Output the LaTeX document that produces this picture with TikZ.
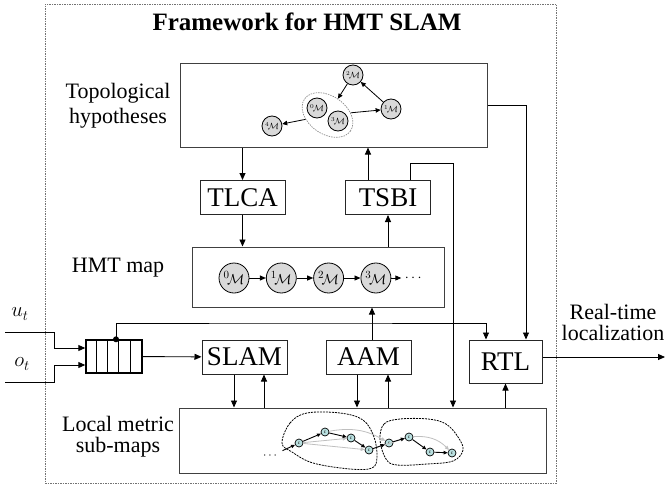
\documentclass[tikz,border=0pt]{standalone}
\usepackage{fontspec}
\setmainfont{Liberation Serif}
\usepackage{amsmath}
\usetikzlibrary{arrows.meta, positioning, calc, shapes.geometric}
\definecolor{mapgray}{HTML}{D9D9D9}
\definecolor{subcyan}{HTML}{B9E0E0}

\begin{document}
\begin{tikzpicture}[
    x=1pt, y=-1pt,
    fwbox/.style={draw=black!55, dash pattern=on 1.5pt off 1pt, line width=0.9pt,
                  minimum width=511pt, minimum height=479pt, inner sep=0pt},
    panel/.style={draw=black!75, line width=1pt, inner sep=0pt},
    blk/.style={draw=black!85, line width=1pt, inner sep=0pt,
                minimum width=85pt, minimum height=34pt,
                font=\fontsize{27}{30}\selectfont},
    lbl/.style={align=center, font=\fontsize{22}{25}\selectfont},
    arr/.style={-{Triangle[length=7pt, width=6pt]}, line width=0.9pt},
    ln/.style={line width=0.9pt},
    mnode/.style={circle, draw, line width=0.8pt, fill=mapgray,
                  minimum size=30pt, inner sep=0pt, font=\fontsize{15}{15}\selectfont},
    tnode/.style={circle, draw, line width=0.8pt, fill=mapgray,
                  minimum size=20pt, inner sep=0pt, font=\fontsize{9}{9}\selectfont},
    snode/.style={circle, draw, line width=0.7pt, fill=subcyan,
                  minimum size=8pt, inner sep=0pt, font=\fontsize{5}{5}\selectfont},
    marr/.style={-{Triangle[length=6pt, width=5pt]}, line width=0.9pt},
    tarr/.style={-{Triangle[length=5pt, width=4.5pt]}, line width=0.8pt},
    sarr/.style={-{Triangle[length=4pt, width=3.5pt]}, line width=0.9pt},
    garr/.style={-{Triangle[length=4pt, width=3.5pt]}, line width=0.8pt, black!25},
    grp/.style={ellipse, draw=black!45, dash pattern=on 1.5pt off 1pt, line width=0.7pt,
                minimum width=56pt, minimum height=38pt, inner sep=0pt},
    blob/.style={draw, dash pattern=on 2pt off 1pt, line width=0.8pt}
  ]
  \useasboundingbox (0,0) rectangle (668,487);

  \node[fwbox] (fw) at (300.5,243.5) {};
  \node[font=\bfseries\fontsize{25}{28}\selectfont] (title) at (307,22) {Framework for HMT SLAM};

  \node[panel, minimum width=307pt, minimum height=84pt] (topo) at (333.5,105) {};
  \node[panel, minimum width=252pt, minimum height=60pt] (hmt) at (318,277) {};
  \node[panel, minimum width=367pt, minimum height=65pt] (local) at (362.5,440.5) {};

  \node[lbl] (topolbl) at (118,106) {Topological\\hypotheses};
  \node[lbl] (hmtlbl) at (118,268) {HMT map};
  \node[lbl, font=\fontsize{22}{21}\selectfont] (locallbl) at (118,437) {Local metric\\sub-maps};

  \node[blk] (tlca) at (242.5,197.5) {TLCA};
  \node[blk] (tsbi) at (388,197.5) {TSBI};
  \node[blk] (slam) at (244.5,357) {SLAM};
  \node[blk] (aam) at (368.5,357) {AAM};
  \node[blk, minimum width=73pt, minimum height=43pt] (rtl) at (505.5,361.5) {RTL};

  % input queue
  \node[draw, line width=1.4pt, minimum width=56pt, minimum height=33pt, inner sep=0pt] (queue) at (114,356.5) {};
  \foreach \i in {1,...,4}
    \draw[ln] ([xshift=\i*11.2pt]queue.north west) -- ([xshift=\i*11.2pt]queue.south west);
  \node[circle, fill, inner sep=0pt, minimum size=6pt] (tap) at ([xshift=2pt]queue.north) {};

  \node[lbl] (ulbl) at (20,314) {$u_t$};
  \node[lbl] (olbl) at (22,364) {$o_t$};
  \coordinate (uin) at (5,332);
  \coordinate (ubend) at (54,332);
  \coordinate (oin) at (5,382);
  \coordinate (obend) at (54,382);
  \draw[arr] (uin) -- (ubend) |- ([yshift=8.5pt]queue.west);
  \draw[arr] (oin) -- (obend) |- ([yshift=-8.5pt]queue.west);

  % connections
  \coordinate (tsbiturn) at (453,163);
  \coordinate (qturn) at (300,323);
  \coordinate (rtout) at (665,357);
  \draw[arr] (topo.south -| tlca) -- (tlca);
  \draw[arr] (tlca) -- (tlca |- hmt.north);
  \draw[arr] (hmt.north -| tsbi) -- (tsbi);
  \draw[arr] ([xshift=-20pt]tsbi.north) -- ([xshift=-20pt]tsbi.north |- topo.south);
  \draw[arr] ([xshift=22pt]tsbi.north) |- (tsbiturn) -- (tsbiturn |- local.north);
  \draw[arr] (topo.east) -| ([xshift=20.5pt]rtl.north);
  \draw[arr] (tap.center) |- (qturn) -| ([xshift=-19.5pt]rtl.north);
  \draw[arr] (queue) -- (slam);
  \draw[arr] ([xshift=-10.5pt]slam.south) -- ([xshift=-10.5pt]slam.south |- local.north);
  \draw[arr] ([xshift=19.5pt]slam.south |- local.north) -- ([xshift=19.5pt]slam.south);
  \draw[arr] ([xshift=-11.5pt]aam.south) -- ([xshift=-11.5pt]aam.south |- local.north);
  \draw[arr] ([xshift=19.5pt]aam.south |- local.north) -- ([xshift=19.5pt]aam.south);
  \draw[arr] ([xshift=3.5pt]aam.north) -- ([xshift=3.5pt]aam.north |- hmt.south);
  \draw[arr] (local.north -| rtl) -- (rtl);
  \draw[arr] (rtl.east |- rtout) -- (rtout);
  \node[lbl, font=\fontsize{22}{21}\selectfont] (rtlbl) at (613,322) {Real-time\\localization};

  % topological hypotheses
  \node[grp, rotate=-35] (hyp) at (327.5,115) {};
  \node[tnode] (t2) at (353,75) {${}^{2}\!\mathcal{M}$};
  \node[tnode] (t0) at (317,108) {${}^{0}\!\mathcal{M}$};
  \node[tnode] (t3) at (338,121) {${}^{3}\!\mathcal{M}$};
  \node[tnode] (t1) at (391,109) {${}^{1}\!\mathcal{M}$};
  \node[tnode] (t4) at (272,126) {${}^{4}\!\mathcal{M}$};
  \draw[tarr] (t1) -- (t2);
  \draw[tarr] (t2) -- (hyp);
  \draw[tarr] (hyp) -- (t1);
  \draw[tarr] (hyp) -- (t4);

  % HMT map
  \node[mnode] (m0) at (234,278) {${}^{0}\!\mathcal{M}$};
  \node[mnode, right=16.5pt of m0] (m1) {${}^{1}\!\mathcal{M}$};
  \node[mnode, right=16.5pt of m1] (m2) {${}^{2}\!\mathcal{M}$};
  \node[mnode, right=16.5pt of m2] (m3) {${}^{3}\!\mathcal{M}$};
  \node[right=10pt of m3, font=\fontsize{15}{15}\selectfont] (mdots) {$\cdots$};
  \foreach \a/\b in {m0/m1, m1/m2, m2/m3, m3/mdots}
    \draw[marr] (\a) -- (\b);

  % local metric sub-maps
  \draw[blob] plot[smooth cycle, tension=0.6] coordinates {(282,443) (290,423) (307,413) (340,413) (363,420) (374,437) (377,457) (372,468) (350,469) (313,463) (292,452)};
  \draw[blob] plot[smooth cycle, tension=0.6] coordinates {(380,440) (384,424) (400,419) (428,419) (446,424) (458,437) (463,450) (453,461) (427,464) (397,465) (386,459)};
  \node[snode] (n1) at (299,443) {c};
  \node[snode] (n2) at (325,432) {c};
  \node[snode] (n3) at (351,438) {c};
  \node[snode] (n4) at (369,450) {c};
  \node[snode] (n5) at (389,443) {c};
  \node[snode] (n6) at (409,437) {c};
  \node[snode] (n7) at (430,452) {c};
  \node[snode] (n8) at (452,453) {c};
  \node[font=\fontsize{12}{12}\selectfont] (sdots) at (271,456) {$\cdots$};
  \draw[garr] (n1) -- (n3);
  \draw[garr] (n1) -- (n4);
  \draw[garr] (n2) to[bend left=20] (n5);
  \draw[garr] (n4) -- (n6);
  \draw[garr] (n6) to[bend left=25] (n8);
  \foreach \a/\b in {sdots/n1, n1/n2, n2/n3, n3/n4, n4/n5, n5/n6, n6/n7, n7/n8}
    \draw[sarr] (\a) -- (\b);
\end{tikzpicture}
\end{document}
